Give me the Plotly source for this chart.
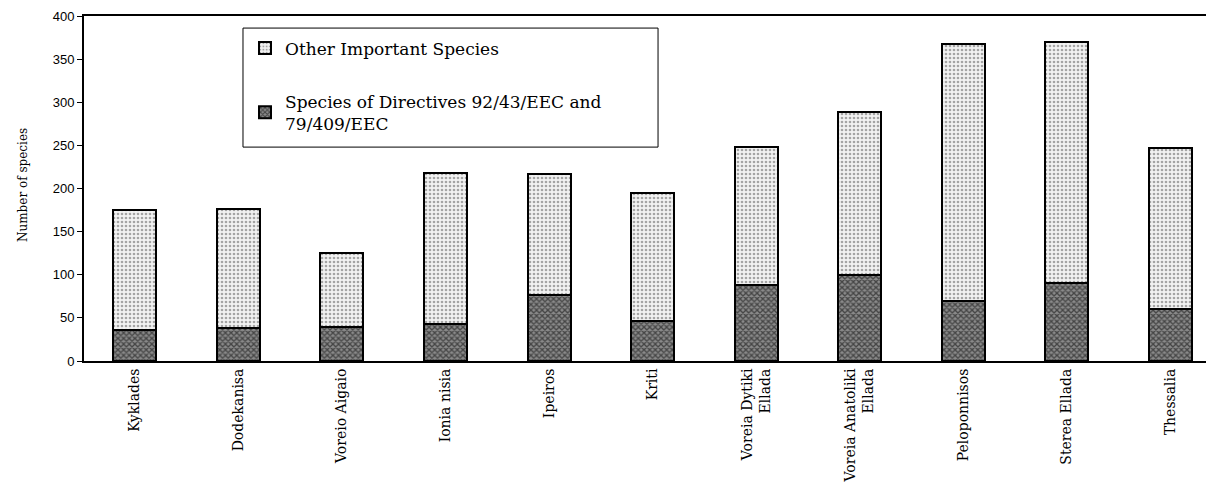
import plotly.graph_objects as go

regions = ["Kyklades", "Dodekanisa", "Voreio Aigaio", "Ionia nisia", "Ipeiros", "Kriti",
           "Voreia Dytiki<br>Ellada", "Voreia Anatoliki<br>Ellada", "Peloponnisos",
           "Sterea Ellada", "Thessalia"]
totals = [175, 176, 125, 218, 217, 195, 248, 289, 368, 370, 247]
directive_species = [36, 38, 40, 43, 76, 46, 88, 100, 70, 90, 60]
other_species = [t - d for t, d in zip(totals, directive_species)]
y_ticks = [0, 50, 100, 150, 200, 250, 300, 350, 400]

serif = "DejaVu Serif"

fig = go.Figure()
fig.add_trace(go.Bar(
    x=regions, y=directive_species,
    name="Species of Directives 92/43/EEC and<br>79/409/EEC",
    legendgroup="b", legendrank=2,
    marker=dict(color="#555555",
                line=dict(color="black", width=2),
                pattern=dict(shape="x", fgcolor="#000000", bgcolor="#8a8a8a",
                             size=4, solidity=0.55, fillmode="overlay")),
))
fig.add_trace(go.Bar(
    x=regions, y=other_species,
    name="Other Important Species",
    legendgroup="a", legendrank=1,
    marker=dict(color="white",
                line=dict(color="black", width=2),
                pattern=dict(shape=".", fgcolor="#555555", bgcolor="#f2f2f2",
                             size=4, solidity=0.35, fillmode="overlay")),
))

fig.add_annotation(text="Number of species", xref="paper", yref="paper",
                   x=-0.062, y=0.51, textangle=-90, showarrow=False,
                   font=dict(family=serif, size=12, color="black"))

# legend frame
fig.add_shape(type="rect", xref="paper", yref="paper",
              x0=0.1407, x1=0.508, y0=0.620, y1=0.965,
              line=dict(color="black", width=1), fillcolor="rgba(0,0,0,0)", layer="above")

fig.update_layout(
    width=1206, height=479,
    margin=dict(l=76, r=0, t=8, b=126),
    paper_bgcolor="white", plot_bgcolor="white",
    barmode="stack", bargap=0.585,
    showlegend=True,
    legend=dict(x=0.1425, y=0.958, xanchor="left", yanchor="top",
                borderwidth=0, bgcolor="rgba(0,0,0,0)",
                font=dict(family=serif, size=17, color="black"),
                tracegroupgap=28, traceorder="grouped",
                itemwidth=30),
    xaxis=dict(range=[-0.49, 10.42], showline=True, linecolor="black", linewidth=2,
               mirror=True, ticks="", tickangle=-90, automargin=False,
               tickfont=dict(family=serif, size=14, color="black")),
    yaxis=dict(range=[0, 400], tickvals=y_ticks, showline=True, linecolor="black",
               linewidth=2, ticks="outside", ticklen=5, tickcolor="black",
               showgrid=False, zeroline=False, automargin=False,
               tickfont=dict(family="Liberation Sans", size=13, color="black")),
)

fig.write_html("out.html")
